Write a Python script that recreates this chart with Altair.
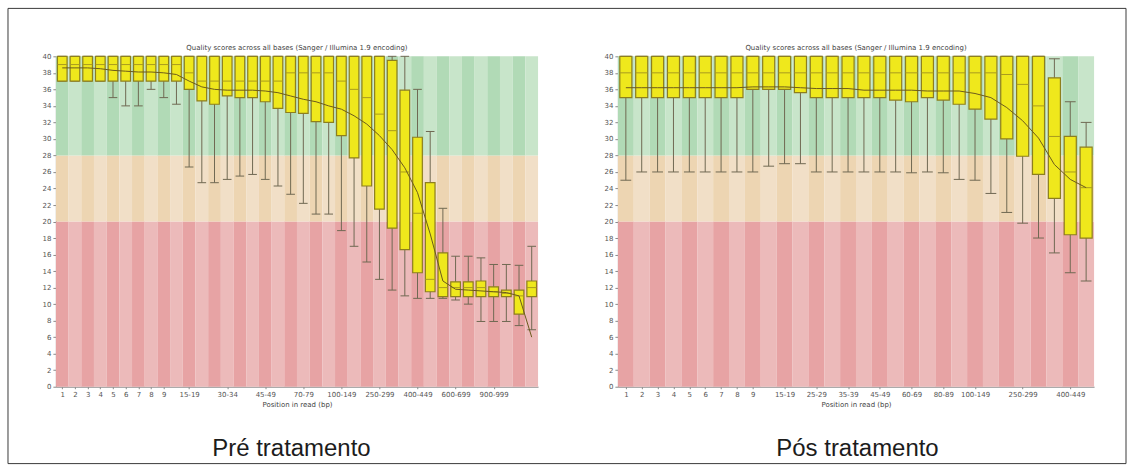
import json
import altair as alt
import pandas as pd

TITLE = "Quality scores across all bases (Sanger / Illumina 1.9 encoding)"

# ---- "Pré tratamento" panel: per-position quality distribution ----
pre_bins = ["1", "2", "3", "4", "5", "6", "7", "8", "9",
            "10-14", "15-19", "20-24", "25-29", "30-34", "35-39", "40-44", "45-49",
            "50-59", "60-69", "70-79", "80-89", "90-99",
            "100-149", "150-199", "200-249", "250-299", "300-349", "350-399",
            "400-449", "450-499", "500-599", "600-699", "700-799", "800-899",
            "900-999", "1000-1099", "1100-1199", "1200-1299"]
pre_low = [37, 37, 37, 37, 35, 34, 34, 36, 35, 34.2, 26.6, 24.7, 24.7, 25.1, 25.5, 25.7, 25.1,
           24.3, 23.3, 22.2, 20.9, 20.9, 18.9, 17.0, 15.1, 13.0, 11.7, 11.0,
           10.7, 10.7, 10.7, 10.5, 10.0, 7.9, 7.9, 7.9, 7.4, 6.9]
pre_q1 = [37, 37, 37, 37, 37, 37, 37, 37, 37, 37, 36.0, 34.6, 34.2, 35.2, 35.0, 35.0, 34.5,
          33.7, 33.2, 33.1, 32.1, 32.0, 30.4, 27.7, 24.3, 21.5, 19.2, 16.6,
          13.8, 11.5, 10.9, 10.9, 10.9, 10.9, 10.9, 10.9, 8.8, 10.9]
pre_median = [39, 39, 39, 39, 39, 39, 39, 39, 39, 39, 38, 37, 37, 37, 37, 37, 37,
              37, 38, 38, 38, 38, 37, 36, 35, 33, 31, 26,
              21, 13, 12, 12, 12, 12, 11.5, 11.3, 11, 12]
pre_q3 = [40, 40, 40, 40, 40, 40, 40, 40, 40, 40, 40, 40, 40, 40, 40, 40, 40,
          40, 40, 40, 40, 40, 40, 40, 40, 40, 39.5, 35.9,
          30.2, 24.7, 16.2, 12.7, 12.7, 12.8, 12.1, 11.7, 11.7, 12.8]
pre_high = [40, 40, 40, 40, 40, 40, 40, 40, 40, 40, 40, 40, 40, 40, 40, 40, 40,
            40, 40, 40, 40, 40, 40, 40, 40, 40, 40, 40,
            36.0, 30.9, 21.6, 15.8, 15.8, 15.6, 14.8, 14.8, 14.7, 17.0]
pre_mean = [38.6, 38.6, 38.6, 38.5, 38.3, 38.2, 38.1, 38.1, 38.0, 37.8, 37.0, 36.3, 36.0, 35.9,
            35.9, 35.9, 35.8, 35.6, 35.2, 34.8, 34.5, 34.0, 33.6, 32.8, 31.8, 30.4, 28.7, 26.5,
            23.5, 18.5, 12.8, 11.8, 11.7, 11.6, 11.5, 11.4, 11.0, 6.0]
pre_ticks = [0, 1, 2, 3, 4, 5, 6, 7, 8, 10, 13, 16, 19, 22, 25, 28, 31, 34]

# ---- "Pós tratamento" panel ----
post_bins = ["1", "2", "3", "4", "5", "6", "7", "8", "9",
             "10-14", "15-19", "20-24", "25-29", "30-34", "35-39", "40-44", "45-49",
             "50-59", "60-69", "70-79", "80-89", "90-99",
             "100-149", "150-199", "200-249", "250-299", "300-349", "350-399",
             "400-449", "450-499"]
post_low = [25.0, 26.0, 26.0, 26.0, 26.0, 26.0, 26.0, 26.0, 26.0, 26.7, 27.0, 27.0, 26.0, 26.0,
            26.0, 26.0, 26.0, 26.0, 25.9, 26.0, 25.9, 25.1, 25.0, 23.4, 21.1, 19.8, 18.0, 16.2,
            13.8, 12.8]
post_q1 = [35.0, 35.0, 35.0, 35.0, 35.0, 35.0, 35.0, 35.0, 36.0, 36.0, 36.0, 35.6, 35.0, 35.0,
           35.0, 35.0, 35.0, 34.7, 34.5, 35.0, 34.7, 34.2, 33.6, 32.4, 30.0, 27.9, 25.7, 22.8,
           18.4, 18.0]
post_median = [38, 38, 38, 38, 38, 38, 38, 38, 38, 38, 38, 38, 38, 38,
               38, 38, 38, 38, 38, 38, 38, 38, 38, 38, 37.8, 36.6, 34.0, 30.3,
               26.0, 24.1]
post_q3 = [40, 40, 40, 40, 40, 40, 40, 40, 40, 40, 40, 40, 40, 40,
           40, 40, 40, 40, 40, 40, 40, 40, 40, 40, 40, 40, 40, 37.4,
           30.3, 29.0]
post_high = [40, 40, 40, 40, 40, 40, 40, 40, 40, 40, 40, 40, 40, 40,
             40, 40, 40, 40, 40, 40, 40, 40, 40, 40, 40, 40, 40, 39.7,
             34.5, 32.0]
post_mean = [36.2, 36.2, 36.2, 36.2, 36.2, 36.2, 36.2, 36.2, 36.3, 36.3, 36.3, 36.2, 36.1, 36.1,
             36.1, 35.9, 35.9, 35.9, 35.9, 35.8, 35.8, 35.8, 35.5, 35.0, 33.8, 32.2, 30.1, 26.9,
             25.1, 24.1]
post_ticks = [0, 1, 2, 3, 4, 5, 6, 7, 8, 10, 12, 14, 16, 18, 20, 22, 25, 28]

# quality zones: (from, to, [even stripe, odd stripe])
ZONES = [(0, 20, ["#e7a3a4", "#ecbaba"]),
         (20, 28, ["#edd5b2", "#f1dfc7"]),
         (28, 40, ["#b1dab6", "#c8e5ca"])]

BOX_FILL = "#efe81c"
BOX_EDGE = "#8d7f1e"
WHISKER = "#6f6852"
MEDIAN = "#a99b1f"
MEAN = "#6b5a1c"
SMALL_FONT = "DejaVu Sans"
PLOT_H = 331
Y_TICKS = list(range(0, 41, 2))


def panel(bins, low, q1, med, q3, high, mean, ticks, width, caption, caption_x, frame=False):
    n = len(bins)
    df = pd.DataFrame({"i": list(range(n)), "bin": bins, "low": low, "q1": q1,
                       "median": med, "q3": q3, "high": high, "mean": mean})
    df["b0"] = df["i"] - 0.38
    df["b1"] = df["i"] + 0.38
    df["c0"] = df["i"] - 0.34
    df["c1"] = df["i"] + 0.34

    stripes = pd.DataFrame([
        {"x0": i - 0.5, "x1": i + 0.5, "y0": lo, "y1": hi, "fill": cols[i % 2]}
        for i in range(n) for lo, hi, cols in ZONES
    ])

    label_expr = json.dumps(bins) + "[datum.value]"
    xscale = alt.Scale(domain=[-0.5, n - 0.5], nice=False, zero=False)
    yscale = alt.Scale(domain=[0, 40], nice=False, zero=True)
    xaxis = alt.Axis(values=ticks, tickCount=len(ticks) + 5, labelExpr=label_expr,
                     title="Position in read (bp)",
                     grid=False, tickSize=2, labelPadding=2, labelFontSize=7,
                     labelFont=SMALL_FONT, labelColor="#555555", titleFont=SMALL_FONT,
                     titleFontSize=7, titleFontWeight="normal", titleColor="#444444",
                     titlePadding=3, domainColor="#8a8a8a", tickColor="#8a8a8a",
                     labelOverlap=False, labelFlush=False)
    yaxis = alt.Axis(values=Y_TICKS, tickCount=len(Y_TICKS) + 5, title=None, grid=False,
                     tickSize=3, labelPadding=2, labelFontSize=7, labelFont=SMALL_FONT,
                     labelColor="#555555", domainColor="#8a8a8a", tickColor="#8a8a8a",
                     labelOverlap=False)

    bg = alt.Chart(stripes).mark_rect().encode(
        x=alt.X("x0:Q", scale=xscale, axis=xaxis),
        x2="x1:Q",
        y=alt.Y("y0:Q", scale=yscale, axis=yaxis),
        y2="y1:Q",
        color=alt.Color("fill:N", scale=None),
    )
    base = alt.Chart(df)
    whisk = base.mark_rule(color=WHISKER, strokeWidth=1).encode(
        x="i:Q", y="low:Q", y2="high:Q")
    cap_lo = base.mark_rule(color=WHISKER, strokeWidth=1).encode(
        x="c0:Q", x2="c1:Q", y="low:Q")
    cap_hi = base.mark_rule(color=WHISKER, strokeWidth=1).encode(
        x="c0:Q", x2="c1:Q", y="high:Q")
    boxes = base.mark_rect(fill=BOX_FILL, stroke=BOX_EDGE, strokeWidth=1.2).encode(
        x="b0:Q", x2="b1:Q", y="q1:Q", y2="q3:Q")
    medians = base.mark_rule(color=MEDIAN, strokeWidth=1).encode(
        x="b0:Q", x2="b1:Q", y="median:Q")
    means = base.mark_line(color=MEAN, strokeWidth=1).encode(x="i:Q", y="mean:Q")

    heading = alt.Chart(pd.DataFrame({"t": [TITLE]})).mark_text(
        font=SMALL_FONT, fontSize=7, color="#444444", align="center",
        baseline="alphabetic").encode(x=alt.value(width / 2), y=alt.value(-6), text="t:N")
    cap = alt.Chart(pd.DataFrame({"t": [caption]})).mark_text(
        font="Liberation Sans", fontSize=24, color="#1c1c1c", align="center",
        baseline="alphabetic").encode(x=alt.value(caption_x), y=alt.value(400), text="t:N")

    layers = [bg, whisk, cap_lo, cap_hi, boxes, medians, means, heading, cap]
    if frame:
        border = alt.Chart(pd.DataFrame({"k": [0]})).mark_rect(
            fillOpacity=0, stroke="#3a3a3a", strokeWidth=1).encode(
            x=alt.value(-48), x2=alt.value(1072), y=alt.value(-48), y2=alt.value(408))
        layers.append(border)

    return alt.layer(*layers).properties(width=width, height=PLOT_H)


left = panel(pre_bins, pre_low, pre_q1, pre_median, pre_q3, pre_high, pre_mean,
             pre_ticks, 483, "Pré tratamento", 236, frame=True)
right = panel(post_bins, post_low, post_q1, post_median, post_q3, post_high, post_mean,
              post_ticks, 477, "Pós tratamento", 240)

chart = alt.hconcat(left, right, spacing=80, bounds="flush").properties(
    padding={"left": 7, "top": 7, "right": 7, "bottom": 7},
    background="white",
).configure_view(strokeWidth=0).configure_axis(labelOverlap=False)

chart.save("out.html", embed_options={"renderer": "svg", "actions": False})
